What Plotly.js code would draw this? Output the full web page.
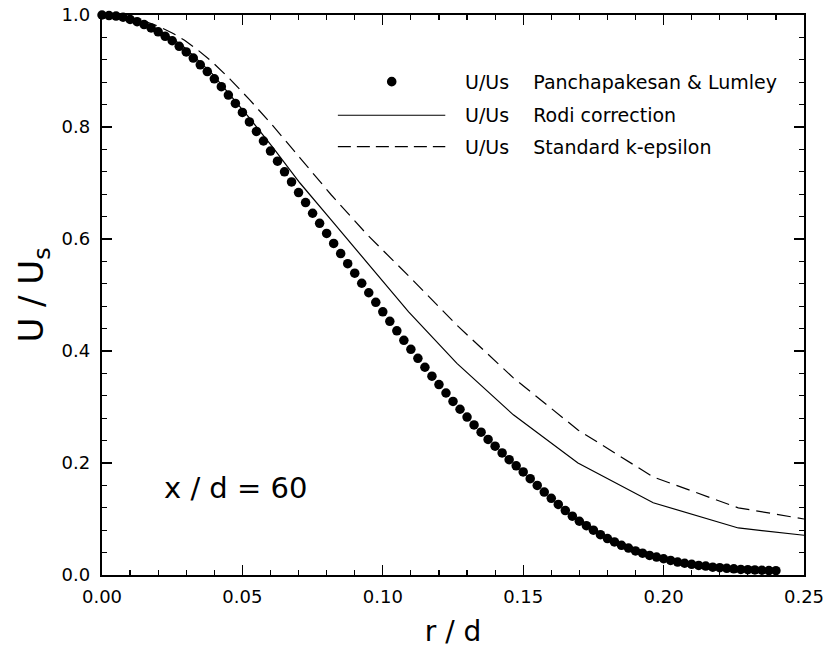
<!DOCTYPE html>
<html>
<head>
<meta charset="utf-8">
<script src="https://cdn.plot.ly/plotly-3.0.1.min.js"></script>
<style>html,body{margin:0;padding:0;background:#fff;}#chart{width:828px;height:652px;}</style>
</head>
<body>
<div id="chart"></div>
<script>
// Panchapakesan & Lumley (symbols)
const rDots = [0.0000,0.0025,0.0050,0.0075,0.0100,0.0125,0.0150,0.0175,0.0200,0.0225,
  0.0250,0.0275,0.0300,0.0325,0.0350,0.0375,0.0400,0.0425,0.0450,0.0475,
  0.0500,0.0525,0.0550,0.0575,0.0600,0.0625,0.0650,0.0675,0.0700,0.0725,
  0.0750,0.0775,0.0800,0.0825,0.0850,0.0875,0.0900,0.0925,0.0950,0.0975,
  0.1000,0.1025,0.1050,0.1075,0.1100,0.1125,0.1150,0.1175,0.1200,0.1225,
  0.1250,0.1275,0.1300,0.1325,0.1350,0.1375,0.1400,0.1425,0.1450,0.1475,
  0.1500,0.1525,0.1550,0.1575,0.1600,0.1625,0.1650,0.1675,0.1700,0.1725,
  0.1750,0.1775,0.1800,0.1825,0.1850,0.1875,0.1900,0.1925,0.1950,0.1975,
  0.2000,0.2025,0.2050,0.2075,0.2100,0.2125,0.2150,0.2175,0.2200,0.2225,
  0.2250,0.2275,0.2300,0.2325,0.2350,0.2375,0.2400];
const uDots = [1.000,0.999,0.998,0.996,0.992,0.988,0.983,0.977,0.970,0.962,
  0.954,0.944,0.934,0.923,0.911,0.899,0.886,0.872,0.857,0.842,
  0.826,0.809,0.792,0.775,0.757,0.739,0.720,0.702,0.683,0.665,
  0.646,0.628,0.610,0.592,0.574,0.556,0.539,0.521,0.504,0.487,
  0.470,0.453,0.436,0.419,0.403,0.387,0.371,0.355,0.340,0.325,
  0.310,0.296,0.282,0.268,0.255,0.242,0.230,0.218,0.206,0.195,
  0.184,0.172,0.160,0.148,0.137,0.126,0.115,0.105,0.096,0.088,
  0.080,0.072,0.065,0.059,0.053,0.048,0.043,0.039,0.035,0.032,
  0.029,0.026,0.023,0.021,0.019,0.017,0.016,0.014,0.013,0.012,
  0.011,0.010,0.0095,0.009,0.0085,0.008,0.0077];

// Computed profiles (grid points)
const rGrid = [0,0.005,0.010,0.015,0.020,0.025,0.0294,0.034,0.0393,0.0455,0.0527,
  0.0609,0.0705,0.0816,0.0944,0.1092,0.1264,0.1465,0.1695,0.1963,0.2266,0.25];
const uRodi = [1.000,0.998,0.993,0.985,0.973,0.958,0.942,0.921,0.895,0.858,0.815,
  0.763,0.700,0.634,0.558,0.470,0.378,0.286,0.200,0.129,0.084,0.071];
const uStd = [1.000,0.999,0.995,0.989,0.980,0.968,0.955,0.938,0.916,0.886,0.848,
  0.802,0.745,0.679,0.608,0.534,0.446,0.352,0.259,0.175,0.120,0.100];

const seriesNames = ["U/Us\u00A0\u00A0\u00A0\u00A0Panchapakesan & Lumley",
                     "U/Us\u00A0\u00A0\u00A0\u00A0Rodi correction",
                     "U/Us\u00A0\u00A0\u00A0\u00A0Standard k-epsilon"];
const caseLabel = "x / d = 60";

const FONT = "DejaVu Sans, Liberation Sans, Arial, sans-serif";

const traces = [
  {x: rGrid, y: uStd, type: "scatter", mode: "lines", name: seriesNames[2],
   line: {color: "#000", width: 1.2, dash: "14px,7px"}, cliponaxis: false},
  {x: rGrid, y: uRodi, type: "scatter", mode: "lines", name: seriesNames[1],
   line: {color: "#000", width: 1.2}, cliponaxis: false},
  {x: rDots, y: uDots, type: "scatter", mode: "markers", name: seriesNames[0],
   marker: {color: "#000", size: 9.5, line: {width: 0}}, cliponaxis: false}
];

// legend drawn as layout decoration (long line samples as in the original)
const legY = [0.881, 0.821, 0.765];
const legTextX = 0.5147;
const shapes = [
  {type: "circle", xref: "paper", yref: "paper", xsizemode: "pixel", ysizemode: "pixel",
   xanchor: 0.4127, yanchor: legY[0], x0: -4.8, x1: 4.8, y0: -4.8, y1: 4.8,
   fillcolor: "#000", line: {width: 0}},
  {type: "line", xref: "paper", yref: "paper", x0: 0.336, x1: 0.489, y0: legY[1], y1: legY[1],
   line: {color: "#000", width: 1.2}},
  {type: "line", xref: "paper", yref: "paper", x0: 0.336, x1: 0.489, y0: legY[2], y1: legY[2],
   line: {color: "#000", width: 1.2, dash: "13px,6px"}}
];
const annotations = seriesNames.map((t, i) => ({
  text: t, xref: "paper", yref: "paper", x: legTextX, y: legY[i],
  xanchor: "left", yanchor: "middle", showarrow: false,
  font: {family: FONT, size: 19, color: "#000"}
}));
annotations.push({
  text: caseLabel, xref: "paper", yref: "paper", x: 0.085, y: 0.155,
  xanchor: "left", yanchor: "middle", showarrow: false,
  font: {family: FONT, size: 29, color: "#000"}
});

const layout = {
  width: 828, height: 652,
  margin: {l: 102, r: 24, t: 15, b: 77, pad: 0},
  paper_bgcolor: "#fff", plot_bgcolor: "#fff",
  showlegend: false,
  font: {family: FONT, color: "#000"},
  xaxis: {
    range: [0, 0.25], tickvals: [0, 0.05, 0.10, 0.15, 0.20, 0.25], tickformat: ".2f",
    ticks: "inside", ticklen: 10, tickwidth: 1.3, tickcolor: "#000",
    minor: {dtick: 0.01, ticks: "inside", ticklen: 5, tickwidth: 1.2, tickcolor: "#000", showgrid: false},
    showline: true, linewidth: 2.2, linecolor: "#000", mirror: "ticks",
    showgrid: false, zeroline: false,
    tickfont: {family: FONT, size: 18, color: "#000"},
    ticklabelstandoff: 4,
    title: {text: "r / d", font: {family: FONT, size: 28, color: "#000"}, standoff: 16}
  },
  yaxis: {
    range: [0, 1.0], tickvals: [0, 0.2, 0.4, 0.6, 0.8, 1.0], tickformat: ".1f",
    ticks: "inside", ticklen: 10, tickwidth: 1.3, tickcolor: "#000",
    minor: {dtick: 0.04, ticks: "inside", ticklen: 5, tickwidth: 1.2, tickcolor: "#000", showgrid: false},
    showline: true, linewidth: 2.2, linecolor: "#000", mirror: "ticks",
    showgrid: false, zeroline: false,
    tickfont: {family: FONT, size: 18, color: "#000"},
    ticklabelstandoff: 6,
    title: {text: "U / U<sub>s</sub>", font: {family: FONT, size: 34, color: "#000"}, standoff: 8}
  },
  shapes: shapes,
  annotations: annotations
};

Plotly.newPlot("chart", traces, layout, {displayModeBar: false, staticPlot: true});
</script>
</body>
</html>
